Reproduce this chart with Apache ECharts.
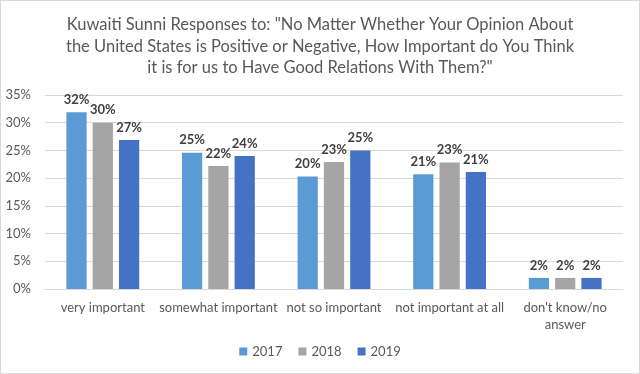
<!DOCTYPE html>
<html><head><meta charset="utf-8">
<script src="https://cdn.jsdelivr.net/npm/echarts@6/dist/echarts.min.js"></script>
<style>
html,body{margin:0;padding:0;background:#fff;}
#c{width:638px;height:372px;border:1px solid #d9d9d9;}
</style></head>
<body><div id="c"></div>
<script>
const categories = ["very important","somewhat important","not so important","not important at all","don't know/no\nanswer"];
const seriesNames = ["2017","2018","2019"];
const v2017 = [31.9, 24.6, 20.3, 20.7, 2.0];
const v2018 = [30.0, 22.2, 22.9, 22.8, 2.0];
const v2019 = [26.9, 24.0, 25.0, 21.1, 2.0];
const yTicks = [0,5,10,15,20,25,30,35];
const colors = ["#5B9BD5","#A5A5A5","#4472C4"];
const titleText = 'Kuwaiti Sunni Responses to: "No Matter Whether Your Opinion About\nthe United States is Positive or Negative, How Important do You Think\nit is for us to Have Good Relations With Them?"';
const FONT = 'Lato';
const chart = echarts.init(document.getElementById('c'));
const data = [v2017, v2018, v2019];
chart.setOption({
  animation:false,
  color: colors,
  title:{ text:titleText, left:'center', top:8, textStyle:{fontFamily:FONT, fontSize:16.5, fontWeight:'normal', color:'#595959', lineHeight:21.5} },
  legend:{ bottom:10, left:'center', itemWidth:8, itemHeight:8, itemGap:16, icon:'rect', textStyle:{fontFamily:FONT, fontSize:13, color:'#595959'}, data:seriesNames },
  grid:{ left:44, right:16, top:94, bottom:84 },
  xAxis:{ type:'category', data:categories, axisTick:{show:false}, axisLine:{lineStyle:{color:'#d9d9d9'}},
    axisLabel:{fontFamily:FONT, fontSize:13, color:'#595959', interval:0, margin:10, lineHeight:17} },
  yAxis:{ type:'value', min:yTicks[0], max:yTicks[yTicks.length-1], interval:5,
    axisLabel:{fontFamily:FONT, fontSize:13, color:'#595959', formatter:v=>v+'%', margin:14},
    splitLine:{lineStyle:{color:'#d9d9d9'}}, axisLine:{show:false}, axisTick:{show:false} },
  series: seriesNames.map((n,i)=>({
    name:n, type:'bar', data:data[i], barGap:'30%', barCategoryGap:'37%',
    label:{show:true, position:'top', distance:6, fontFamily:FONT, fontSize:13, fontWeight:'bold', color:'#404040', formatter:p=>Math.round(p.value)+'%'}
  }))
});
</script></body></html>
